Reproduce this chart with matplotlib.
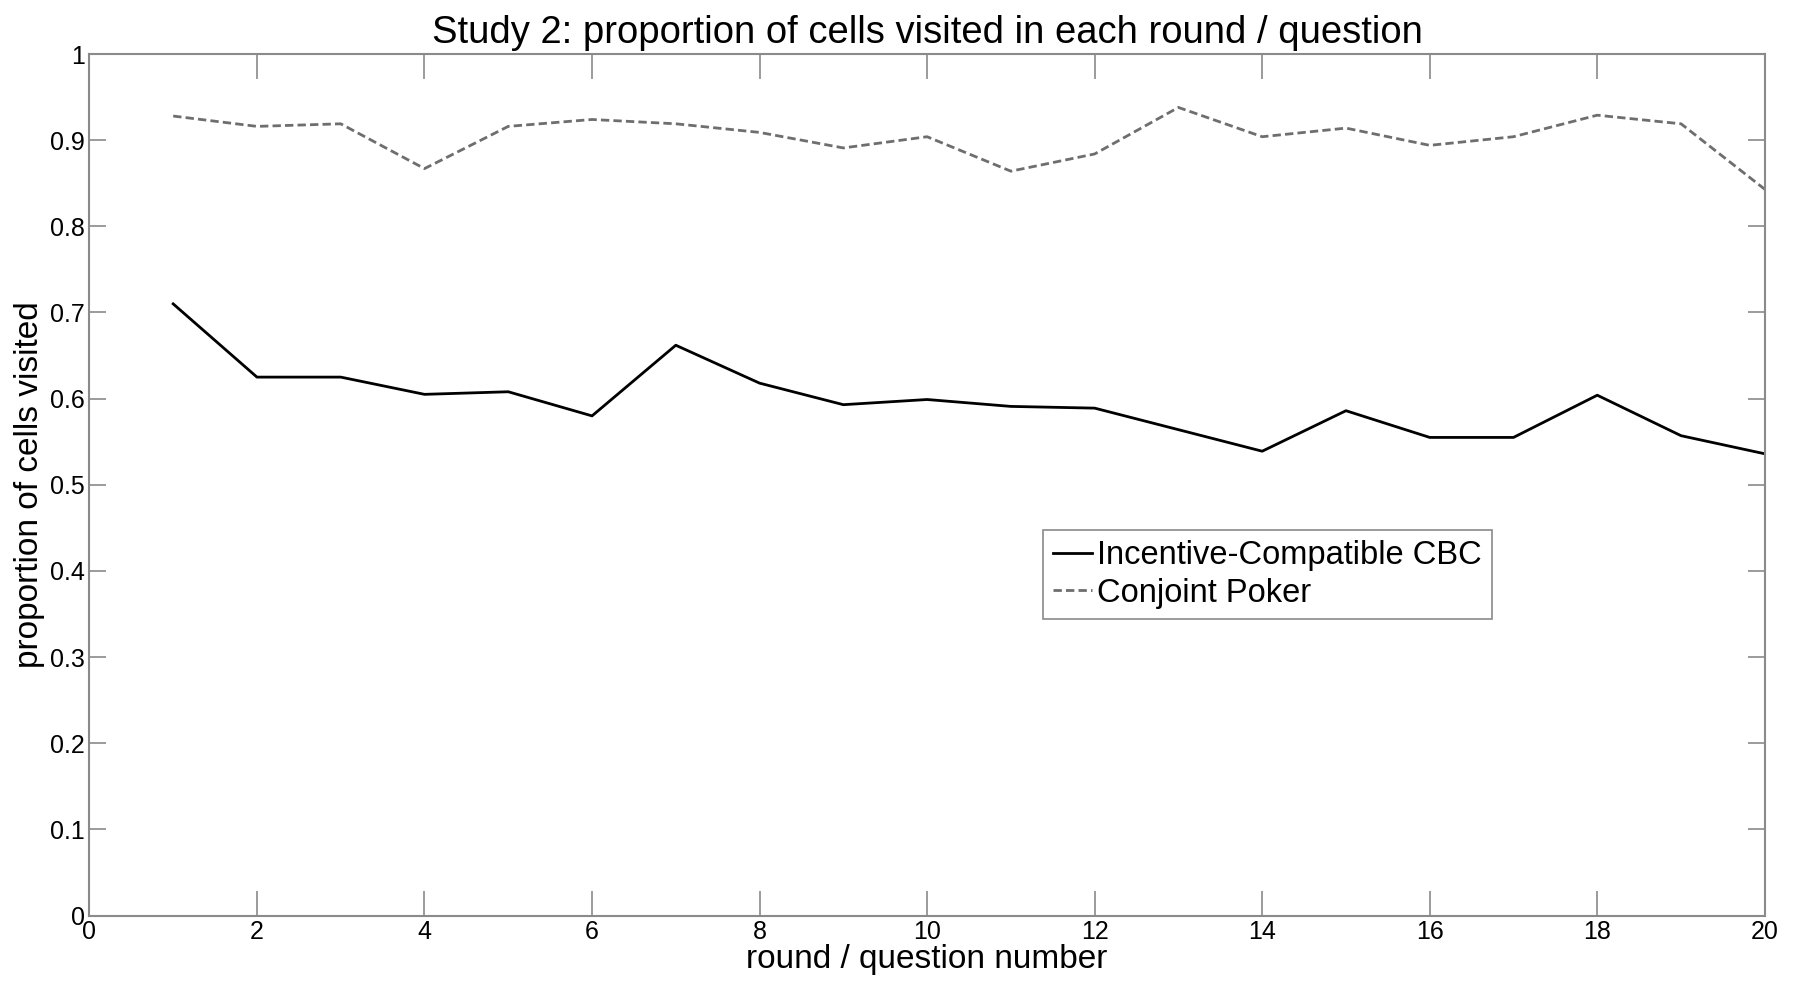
"""
Study 2: proportion of cells visited per round, two survey formats.
"""

import matplotlib
matplotlib.use("Agg")
import matplotlib.pyplot as plt

# ---------------------------------------------------------------------------
# Data
# ---------------------------------------------------------------------------
ROUNDS = list(range(1, 21))
CBC = [0.710, 0.625, 0.625, 0.605, 0.608, 0.580, 0.662, 0.618, 0.593, 0.599,
       0.591, 0.589, 0.564, 0.539, 0.586, 0.555, 0.555, 0.604, 0.557, 0.536]
POKER = [0.928, 0.916, 0.919, 0.867, 0.916, 0.924, 0.919, 0.909, 0.891, 0.904,
         0.864, 0.884, 0.938, 0.904, 0.914, 0.894, 0.904, 0.929, 0.919, 0.843]
X_TICKS = list(range(0, 21, 2))
Y_TICKS = [0, 0.1, 0.2, 0.3, 0.4, 0.5, 0.6, 0.7, 0.8, 0.9, 1]
Y_LABELS = ["0", "0.1", "0.2", "0.3", "0.4", "0.5", "0.6", "0.7", "0.8", "0.9", "1"]

AXIS_GREY = "#8a8a8a"

plt.rcParams["font.family"] = ["Liberation Sans", "DejaVu Sans"]

fig = plt.figure(figsize=(17.99, 9.82), dpi=100)
ax = fig.add_axes([0.0497, 0.0676, 0.9313, 0.8774])

ax.plot(ROUNDS, CBC, color="black", linewidth=2.0, label="Incentive-Compatible CBC")
ax.plot(ROUNDS, POKER, color="#6e6e6e", linewidth=2.0, linestyle=(0, (3, 1.5)),
        label="Conjoint Poker")

ax.set_xlim(0, 20)
ax.set_ylim(0, 1)
ax.set_xticks(X_TICKS)
ax.set_yticks(Y_TICKS)
ax.set_yticklabels(Y_LABELS)

for side in ax.spines.values():
    side.set_color(AXIS_GREY)
    side.set_linewidth(1.5)

ax.tick_params(axis="x", direction="in", length=18, width=1.2, color=AXIS_GREY,
               top=True, labelsize=18, pad=3)
ax.tick_params(axis="y", direction="in", length=12, width=1.2, color=AXIS_GREY,
               right=True, labelsize=18, pad=3)

ax.set_title("Study 2: proportion of cells visited in each round / question",
             fontsize=27.5, pad=8)
ax.set_xlabel("round / question number", fontsize=24, labelpad=0)
ax.set_ylabel("proportion of cells visited", fontsize=24, labelpad=4)

leg = ax.legend(loc="upper left", bbox_to_anchor=(0.5694, 0.447), fontsize=23.5,
                handlelength=1.2, handletextpad=0.15, borderpad=0.3,
                labelspacing=0.2, borderaxespad=0, fancybox=False, framealpha=1)
leg.get_frame().set_edgecolor(AXIS_GREY)
leg.get_frame().set_linewidth(1.2)

fig.savefig("out.png", dpi=100)
plt.close(fig)
